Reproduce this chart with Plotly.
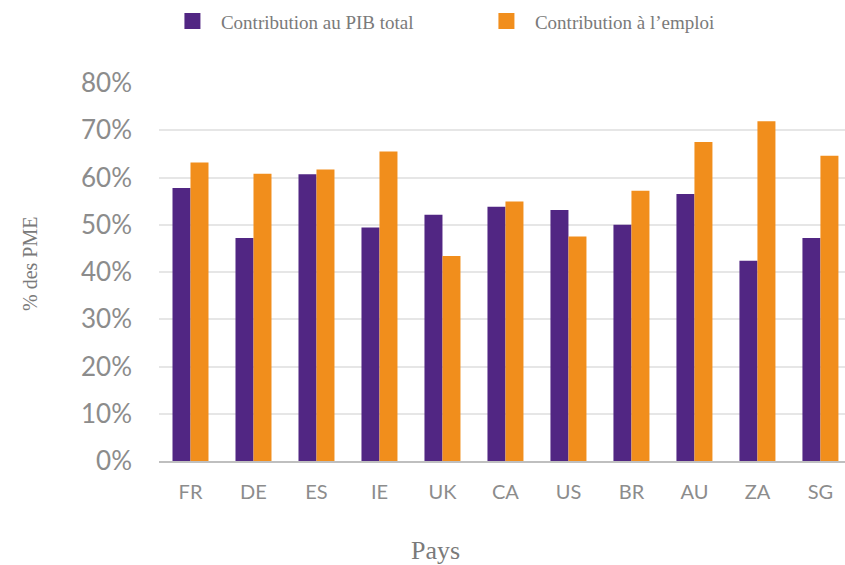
import plotly.graph_objects as go

pays = ["FR", "DE", "ES", "IE", "UK", "CA", "US", "BR", "AU", "ZA", "SG"]
pib = [57.8, 47.2, 60.7, 49.4, 52.1, 53.8, 53.1, 50.0, 56.5, 42.4, 47.2]
emploi = [63.2, 60.8, 61.7, 65.5, 43.4, 54.9, 47.5, 57.2, 67.5, 71.9, 64.6]
y_ticks = [0, 10, 20, 30, 40, 50, 60, 70, 80]
y_ticktext = [f"{v}%" for v in y_ticks]

PURPLE = "#512683"
ORANGE = "#F18E1C"
SERIF = "Liberation Serif, Times New Roman, serif"
SANS = "Lato, Open Sans, sans-serif"
GRAY = "#7a7a7a"

fig = go.Figure()
fig.add_trace(go.Bar(x=pays, y=pib, marker_color=PURPLE, showlegend=False,
                     marker_line_width=0, name="Contribution au PIB total"))
fig.add_trace(go.Bar(x=pays, y=emploi, marker_color=ORANGE, showlegend=False,
                     marker_line_width=0, name="Contribution à l’emploi"))
# legend entries
fig.add_trace(go.Scatter(x=[None], y=[None], mode="markers",
                         marker=dict(symbol="square", size=18, color=PURPLE),
                         name="Contribution au PIB total"))
fig.add_trace(go.Scatter(x=[None], y=[None], mode="markers",
                         marker=dict(symbol="square", size=18, color=ORANGE),
                         name="Contribution à l’emploi"))

fig.update_layout(
    width=845, height=565,
    margin=dict(l=159, r=0, t=83, b=104, autoexpand=False),
    paper_bgcolor="white", plot_bgcolor="white",
    barmode="group", bargap=0.4286, bargroupgap=0,
    legend=dict(orientation="h", x=0.194, xref="container", xanchor="left",
                y=0.996, yanchor="top", yref="container",
                font=dict(family=SERIF, size=19, color=GRAY),
                entrywidth=252, entrywidthmode="pixels", itemwidth=47),
    xaxis=dict(range=[-0.5, 10.39], showgrid=False, showline=True, automargin=False,
               linecolor="#bfbfbf", linewidth=1.5, ticks="",
               tickfont=dict(family=SANS, size=20, color="#8c8c8c"),
               ticklabelstandoff=12),
    yaxis=dict(range=[0, 80], tickvals=y_ticks, ticktext=y_ticktext, automargin=False,
               showgrid=True, gridcolor="#e6e6e6", gridwidth=1.5,
               zeroline=False, showline=False, ticks="",
               tickfont=dict(family=SANS, size=26, color="#8c8c8c"),
               ticklabelstandoff=26),
    annotations=[
        dict(text="Pays", xref="paper", yref="paper", x=(435 - 159) / 686, y=-(550 - 461) / 378,
             xanchor="center", yanchor="middle", showarrow=False,
             font=dict(family=SERIF, size=26, color=GRAY)),
        dict(text="% des PME", xref="paper", yref="paper", x=-(159 - 30) / 686, y=(461 - 264) / 378,
             xanchor="center", yanchor="middle", showarrow=False, textangle=-90,
             font=dict(family=SERIF, size=20, color=GRAY)),
    ],
)

fig.write_html("out.html", config={"displayModeBar": False},
               post_script="document.body.style.margin='0px';")
